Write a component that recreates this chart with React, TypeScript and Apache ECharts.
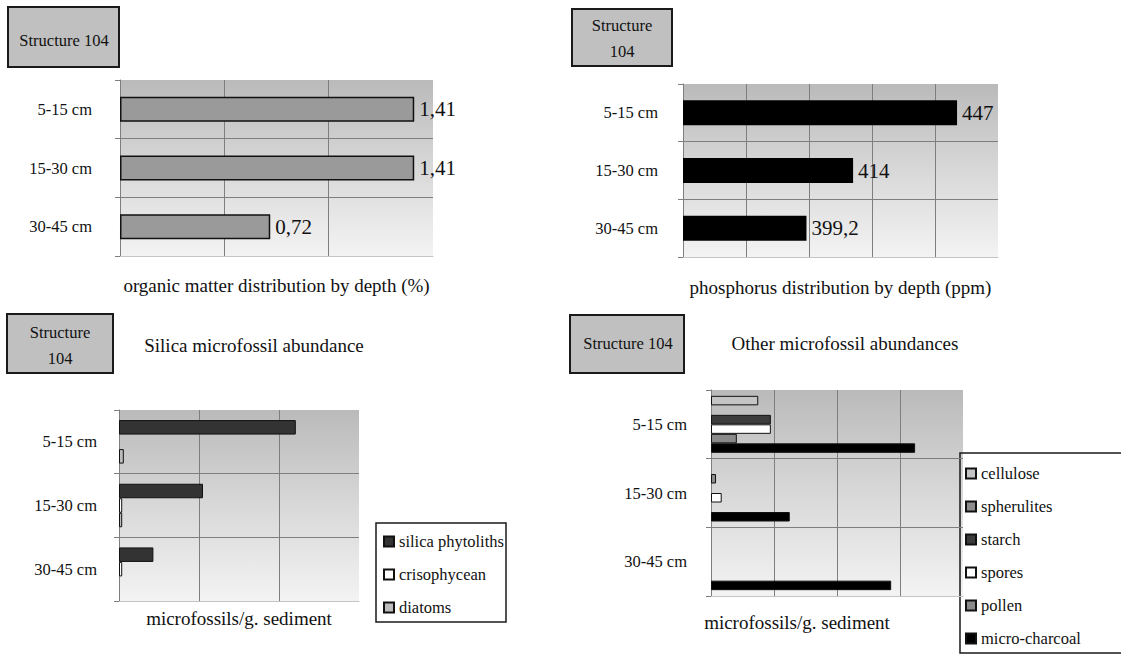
import React, { useEffect, useRef } from 'react';
import * as echarts from 'echarts';

const depthCategories = ['5-15 cm', '15-30 cm', '30-45 cm'];

const organicMatter = [1.41, 1.41, 0.72];
const phosphorus = [447, 414, 399.2];

const silicaNames = ['silica phytoliths', 'crisophycean', 'diatoms'];
const silicaPhytoliths = [2210, 1050, 430];
const crisophycean = [0, 40, 40];
const diatoms = [60, 40, 0];

const otherNames = ['cellulose', 'spherulites', 'starch', 'spores', 'pollen', 'micro-charcoal'];
const cellulose = [750, 0, 0];
const spherulites = [0, 80, 0];
const starch = [950, 0, 0];
const spores = [950, 170, 0];
const pollen = [410, 0, 0];
const microCharcoal = [3240, 1250, 2860];

const FONT = 'Liberation Serif';
const TXT = '#111111';
const GRIDLINE = '#7e7e7e';

export default function App() {
  const ref = useRef<HTMLDivElement>(null);

  useEffect(() => {
    if (!ref.current) return;
    const chart = echarts.init(ref.current, null, { renderer: 'svg' });

    const bg = () =>
      new echarts.graphic.LinearGradient(0, 0, 0, 1, [
        { offset: 0, color: '#bababa' },
        { offset: 0.5, color: '#d8d8d8' },
        { offset: 1, color: '#f3f3f3' },
      ]);

    const grids = [
      { left: 120, top: 80, width: 313, height: 176 },
      { left: 683, top: 84, width: 315, height: 173 },
      { left: 119, top: 410, width: 240, height: 191 },
      { left: 711, top: 390, width: 252, height: 206 },
    ].map((g) => ({ ...g, show: true, backgroundColor: bg(), borderWidth: 0 }));

    const xAxisBase = (gridIndex: number, min: number, max: number, interval: number, name: string, nameGap: number, shift = 0) => ({
      type: 'value',
      gridIndex,
      min,
      max,
      interval,
      axisLabel: { show: false },
      axisTick: { show: false },
      axisLine: { show: true, lineStyle: { color: '#c4c4c4' } },
      splitLine: { show: true, showMaxLine: false, lineStyle: { color: GRIDLINE, width: 1 } },
      name,
      nameLocation: 'middle',
      nameGap,
      nameTextStyle: {
        fontFamily: FONT,
        fontSize: 19,
        color: TXT,
        padding: shift > 0 ? [0, shift * 2, 0, 0] : 0,
      },
    });

    const yAxisBase = (gridIndex: number, margin: number) => ({
      type: 'category',
      gridIndex,
      data: depthCategories,
      inverse: true,
      axisLine: { show: true, lineStyle: { color: GRIDLINE, width: 1 } },
      axisTick: { show: true, length: 5, lineStyle: { color: GRIDLINE } },
      axisLabel: { margin, fontFamily: FONT, fontSize: 16.5, color: TXT },
      splitLine: { show: true, showMinLine: false, showMaxLine: false, lineStyle: { color: GRIDLINE, width: 1 } },
    });

    const commaLabel = (p: any) => String(p.value).replace('.', ',');
    const noZero = (arr: number[]) => arr.map((v) => (v === 0 ? null : v));

    const valueLabel = {
      show: true,
      position: 'right',
      distance: 5,
      fontFamily: FONT,
      fontSize: 21,
      color: TXT,
      formatter: commaLabel,
    };

    const silicaColors = ['#333333', '#ffffff', '#bdbdbd'];
    const silicaData = [silicaPhytoliths, crisophycean, diatoms];
    const otherColors = ['#c4c4c4', '#8c8c8c', '#3c3c3c', '#ffffff', '#8a8a8a', '#000000'];
    const otherData = [cellulose, spherulites, starch, spores, pollen, microCharcoal];

    const series: any[] = [
      {
        type: 'bar',
        name: 'organic matter',
        xAxisIndex: 0,
        yAxisIndex: 0,
        data: organicMatter,
        barWidth: 25,
        itemStyle: { color: '#9a9a9a', borderColor: '#111', borderWidth: 1.5 },
        label: valueLabel,
      },
      {
        type: 'bar',
        name: 'phosphorus',
        xAxisIndex: 1,
        yAxisIndex: 1,
        data: phosphorus,
        barWidth: 25,
        itemStyle: { color: '#000000' },
        label: valueLabel,
      },
      ...silicaNames.map((n, i) => ({
        type: 'bar',
        name: n,
        xAxisIndex: 2,
        yAxisIndex: 2,
        data: noZero(silicaData[i]),
        barWidth: 14.5,
        barGap: '0%',
        itemStyle: { color: silicaColors[i], borderColor: '#111', borderWidth: 1 },
      })),
      ...otherNames.map((n, i) => ({
        type: 'bar',
        name: n,
        xAxisIndex: 3,
        yAxisIndex: 3,
        data: noZero(otherData[i]),
        barWidth: 9.5,
        barGap: '0%',
        itemStyle: { color: otherColors[i], borderColor: '#111', borderWidth: 1 },
      })),
    ];

    const boxStyle = { fill: '#c0c0c0', stroke: '#1a1a1a', lineWidth: 2 };
    const txt = (x: number, y: number, text: string, size: number, lineHeight?: number) => ({
      type: 'text',
      x,
      y,
      style: {
        text,
        fontFamily: FONT,
        fontSize: size,
        fill: TXT,
        align: 'center',
        verticalAlign: 'middle',
        lineHeight: lineHeight || size,
      },
    });

    const legendBase = {
      orient: 'vertical',
      padding: 0,
      itemWidth: 10,
      itemHeight: 10,
      itemGap: 16,
      icon: 'rect',
      selectedMode: false,
      textStyle: { fontFamily: FONT, fontSize: 16.5, color: TXT },
    };

    const option: any = {
      animation: false,
      backgroundColor: '#ffffff',
      grid: grids,
      xAxis: [
        xAxisBase(0, 0, 1.5, 0.5, 'organic matter distribution by depth (%)', 20),
        xAxisBase(1, 360, 460, 20, 'phosphorus distribution by depth (ppm)', 21),
        xAxisBase(2, 0, 3000, 1000, 'microfossils/g. sediment', 8),
        xAxisBase(3, 0, 4000, 1000, 'microfossils/g. sediment', 17, 40),
      ],
      yAxis: [yAxisBase(0, 28), yAxisBase(1, 25), yAxisBase(2, 22), yAxisBase(3, 24)],
      legend: [
        { ...legendBase, data: silicaNames, left: 383, top: 533 },
        { ...legendBase, data: otherNames, left: 965, top: 465 },
      ],
      graphic: [
        { type: 'rect', shape: { x: 8, y: 7, width: 111, height: 60 }, style: boxStyle },
        txt(64, 40, 'Structure 104', 16.5),
        { type: 'rect', shape: { x: 572, y: 9, width: 100, height: 57 }, style: boxStyle },
        txt(622, 38, 'Structure\n104', 16.5, 26),
        { type: 'rect', shape: { x: 7, y: 314, width: 106, height: 59 }, style: boxStyle },
        txt(60, 345, 'Structure\n104', 16.5, 26),
        { type: 'rect', shape: { x: 570, y: 315, width: 114, height: 58 }, style: boxStyle },
        txt(628, 343, 'Structure 104', 16.5),
        txt(254, 345, 'Silica microfossil abundance', 19),
        txt(845, 343, 'Other microfossil abundances', 19),
        { type: 'rect', shape: { x: 376, y: 523, width: 130, height: 99 }, style: { fill: 'none', stroke: '#1a1a1a', lineWidth: 1.5 } },
        { type: 'rect', shape: { x: 960, y: 453, width: 170, height: 200 }, style: { fill: 'none', stroke: '#1a1a1a', lineWidth: 1.5 } },
      ],
      series,
    };

    chart.setOption(option);
    return () => chart.dispose();
  }, []);

  return (
    <div
      ref={ref}
      style={{ position: 'absolute', left: 0, top: 0, width: 1121, height: 655, background: '#fff' }}
    />
  );
}
